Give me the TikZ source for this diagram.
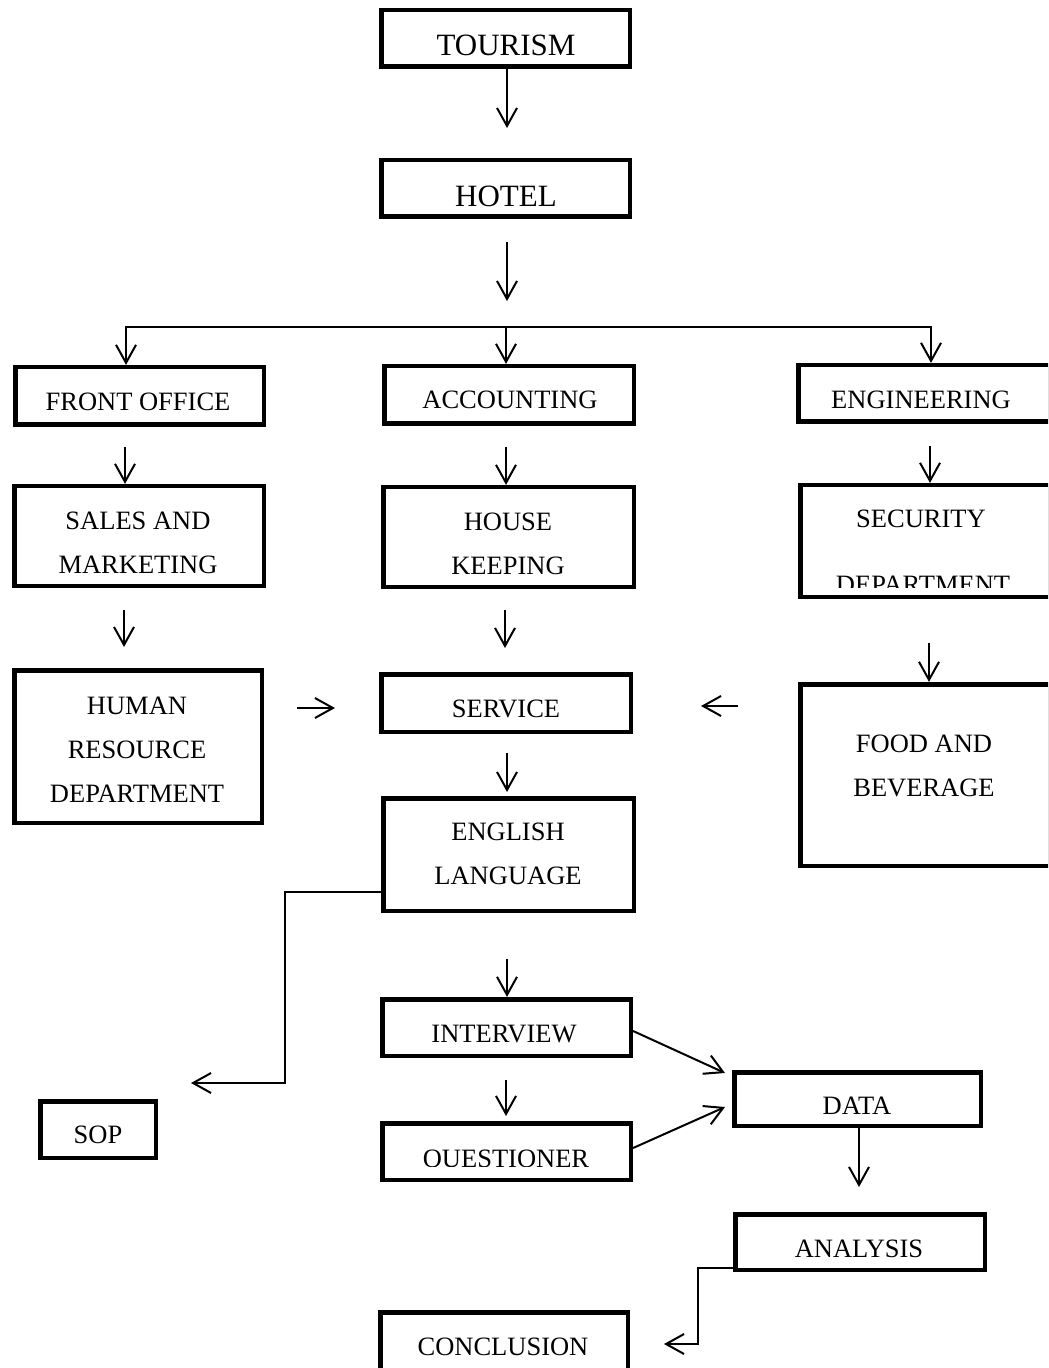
\documentclass[tikz,border=0pt]{standalone}
\usepackage{fontspec}
\setmainfont{Liberation Serif}
\usetikzlibrary{arrows.meta,fit}
\newcommand\mybox[5]{\node[box,fit={({#2+2.2},{#3+2.2}) ({#4-2.2},{#5-2.2})}] (#1) {};}
\begin{document}
\begin{tikzpicture}[x=0.5pt,y=-0.5pt,
  box/.style={draw,line width=2.3pt,inner sep=0pt,rectangle},
  arr/.style={line width=1pt,-{Straight Barb[length=9pt,width=10pt]}},
  ln/.style={line width=1pt},
  txt/.style={font=\fontsize{13.25}{22}\selectfont,align=center,inner sep=0pt},
  big/.style={font=\fontsize{15.5}{20}\selectfont,inner sep=0pt}]
\path[use as bounding box] (0,0) rectangle (1048,1368);
\clip (0,0) rectangle (1048,1368);

% boxes and texts
\mybox{tourism}{379}{8}{632}{69}
\node[big] (ttourism) at (506,45) {TOURISM};
\mybox{hotel}{379}{158}{632}{219}
\node[big] (thotel) at (506,196) {HOTEL};
\mybox{front}{13}{365}{266}{427}
\node[txt] (tfront) at (138,402) {FRONT OFFICE};
\mybox{acct}{382}{364}{636}{426}
\node[txt] (tacct) at (510,400) {ACCOUNTING};
\mybox{eng}{796}{363}{1052}{424}
\node[txt] (teng) at (921,399.5) {ENGINEERING};
\mybox{sales}{12}{484}{266}{588}
\node[txt] (tsales) at (138,543) {SALES AND\\MARKETING};
\mybox{house}{381}{485}{636}{589}
\node[txt] (thouse) at (508,544) {HOUSE\\KEEPING};
\mybox{sec}{798}{483}{1052}{599}
\node[txt] (tsec) at (921,519) {SECURITY};
\begin{scope}
  \clip (800,485) rectangle (1046,587);
  \node[txt] (tsecdep) at (923,585) {DEPARTMENT};
\end{scope}
\mybox{human}{12}{668}{264}{825}
\node[txt] (thuman) at (137,750) {HUMAN\\RESOURCE\\DEPARTMENT};
\mybox{service}{379}{672}{633}{734}
\node[txt] (tservice) at (506,709) {SERVICE};
\mybox{food}{798}{682}{1052}{868}
\node[txt] (tfood) at (924,765.5) {FOOD AND\\BEVERAGE};
\mybox{english}{381}{796}{636}{913}
\node[txt] (tenglish) at (508,854) {ENGLISH\\LANGUAGE};
\mybox{sop}{38}{1099}{158}{1160}
\node[txt] (tsop) at (98,1135) {SOP};
\mybox{interview}{380}{997}{633}{1058}
\node[txt] (tinterview) at (504,1034) {INTERVIEW};
\mybox{quest}{380}{1121}{633}{1182}
\begin{scope}
  \clip (382,1123) rectangle (631,1166);
  \node[txt,anchor=base] (tquest) at (506,1167) {QUESTIONER};
\end{scope}
\mybox{data}{732}{1070}{983}{1128}
\node[txt] (tdata) at (857,1106) {DATA};
\mybox{analysis}{733}{1212}{987}{1272}
\node[txt] (tanalysis) at (859,1249) {ANALYSIS};
\mybox{concl}{378}{1310}{630}{1374}
\node[txt] (tconcl) at (503,1347) {CONCLUSION};

% connectors
\coordinate (a1e) at (507,128);
\draw[arr] (tourism.south -| a1e) -- (a1e);
\coordinate (a2s) at (507,242); \coordinate (a2e) at (507,301);
\draw[arr] (a2s) -- (a2e);
\coordinate (brL) at (126,327); \coordinate (brM) at (506,327); \coordinate (brR) at (931,327);
\draw[arr] (brM) -- (brL) -- (brL |- front.north);
\draw[arr] (brM) -- (brR) -- (brR |- eng.north);
\draw[arr] (brM) -- (brM |- acct.north);
\coordinate (a4s) at (125,447);
\draw[arr] (a4s) -- (a4s |- sales.north);
\coordinate (a5s) at (506,447);
\draw[arr] (a5s) -- (a5s |- house.north);
\coordinate (a6s) at (930,446);
\draw[arr] (a6s) -- (a6s |- sec.north);
\coordinate (a7s) at (124,610); \coordinate (a7e) at (124,647);
\draw[arr] (a7s) -- (a7e);
\coordinate (a8s) at (505,610); \coordinate (a8e) at (505,648);
\draw[arr] (a8s) -- (a8e);
\coordinate (a9s) at (929,643);
\draw[arr] (a9s) -- (a9s |- food.north);
\coordinate (a10s) at (297,708); \coordinate (a10e) at (335,708);
\draw[arr] (a10s) -- (a10e);
\coordinate (a11s) at (738,706); \coordinate (a11e) at (701,706);
\draw[arr] (a11s) -- (a11e);
\coordinate (a12s) at (507,753); \coordinate (a12e) at (507,792);
\draw[arr] (a12s) -- (a12e);
\coordinate (e13) at (0,892); \coordinate (k13) at (285,1083); \coordinate (a13e) at (191,1083);
\draw[arr] (english.west |- e13) -| (k13) -- (a13e);
\coordinate (a14s) at (507,959);
\draw[arr] (a14s) -- (a14s |- interview.north);
\coordinate (a15s) at (506,1080); \coordinate (a15e) at (506,1116);
\draw[arr] (a15s) -- (a15e);
\coordinate (e16) at (0,1031); \coordinate (a16e) at (725,1073);
\draw[arr] (interview.east |- e16) -- (a16e);
\coordinate (e17) at (0,1148); \coordinate (a17e) at (725,1107);
\draw[arr] (quest.east |- e17) -- (a17e);
\coordinate (a18e) at (859,1187);
\draw[arr] (data.south -| a18e) -- (a18e);
\coordinate (e19) at (0,1268); \coordinate (k19) at (698,1344); \coordinate (a19e) at (664,1344);
\draw[arr] (analysis.west |- e19) -| (k19) -- (a19e);
\end{tikzpicture}
\end{document}
